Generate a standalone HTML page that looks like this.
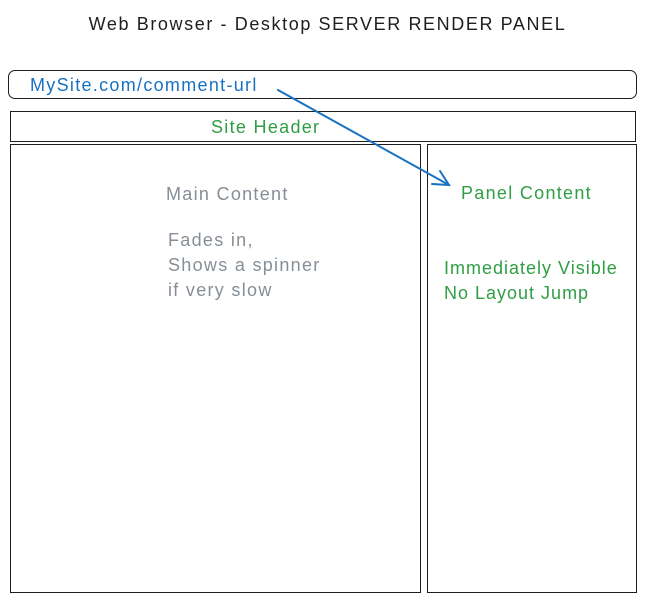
<!DOCTYPE html>
<html><head><style>
body{margin:0;width:650px;height:601px;background:#fff;position:relative;overflow:hidden;font-family:"Liberation Sans",sans-serif}
.t{position:absolute;white-space:nowrap;font-size:18px;line-height:25px;letter-spacing:1.3px}
.b{position:absolute;border:1.5px solid #1e1e1e;box-sizing:border-box}
</style></head><body>
<div class="t" style="left:0;width:655px;text-align:center;top:12px;color:#1e1e1e;letter-spacing:1.6px">Web Browser - Desktop SERVER RENDER PANEL</div>
<div class="b" style="left:8px;top:70px;width:629px;height:29px;border-radius:7px"></div>
<div class="b" style="left:10px;top:111px;width:626px;height:31px"></div>
<div class="b" style="left:10px;top:144px;width:411px;height:449px"></div>
<div class="b" style="left:427px;top:144px;width:210px;height:449px"></div>
<div class="t" style="left:30px;top:73px;color:#1971c2">MySite.com/comment-url</div>
<div class="t" style="left:211px;top:115px;color:#2f9e44">Site Header</div>
<div class="t" style="left:166px;top:182px;color:#868e96">Main Content</div>
<div class="t" style="left:168px;top:228px;color:#868e96">Fades in,<br>Shows a spinner<br>if very slow</div>
<div class="t" style="left:461px;top:181px;color:#2f9e44">Panel Content</div>
<div class="t" style="left:444px;top:256px;color:#2f9e44;letter-spacing:1px">Immediately Visible<br>No Layout Jump</div>
<svg style="position:absolute;left:0;top:0" width="650" height="601">
<path d="M278 90 L449 185" stroke="#1971c2" stroke-width="2" fill="none" stroke-linecap="round"/>
<path d="M432 184 L449 185 L440 171" stroke="#1971c2" stroke-width="2" fill="none" stroke-linecap="round"/>
</svg>
</body></html>
